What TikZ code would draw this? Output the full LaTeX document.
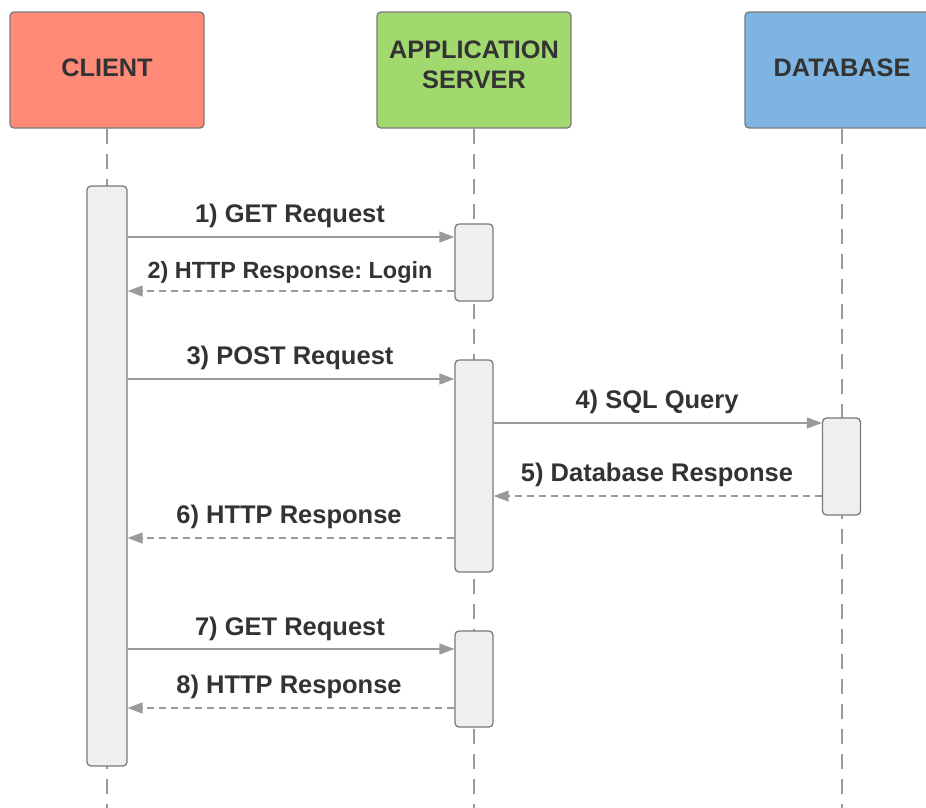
\documentclass[tikz,border=0pt]{standalone}
\usepackage{fontspec}
\setmainfont{Liberation Sans}
\frenchspacing
\usetikzlibrary{arrows.meta}
\definecolor{txt}{HTML}{333333}
\definecolor{cred}{HTML}{FF8A78}
\definecolor{cgreen}{HTML}{A2D96E}
\definecolor{cblue}{HTML}{7DB4E2}
\definecolor{bord}{HTML}{7A7A7A}
\definecolor{actfill}{HTML}{EFEFEF}
\definecolor{linec}{HTML}{9A9A9A}
\tikzset{
  header/.style={draw=bord, line width=1.3pt, rounded corners=4pt, minimum width=194pt, minimum height=116pt,
    inner sep=0pt},
  headtxt/.style={align=center, text=txt, inner sep=0pt, font=\fontsize{25.3}{30}\selectfont\bfseries},
  actbox/.style={draw=bord, fill=actfill, line width=1.3pt, rounded corners=4pt, minimum width=38pt, inner sep=0pt},
  life/.style={draw=linec, line width=1.3pt, dash pattern=on 15pt off 10pt},
  msg/.style={draw=linec, line width=1.4pt, -{Triangle[length=15pt,width=11pt]}},
  ret/.style={msg, dash pattern=on 7pt off 5pt},
  lbl/.style={text=txt, font=\fontsize{25.5}{30}\selectfont\bfseries, inner sep=0pt}
}
\begin{document}
\begin{tikzpicture}[x=1pt,y=-1pt]
\useasboundingbox (0,0) rectangle (926,807);
\clip (0,0) rectangle (926,807);
% headers
\node[header, fill=cred] (client) at (107,70) {};
\node[headtxt] (clienttxt) at (107,68) {CLIENT};
\node[header, fill=cgreen] (app) at (474,70) {};
\node[headtxt] (apptxt) at (474,65) {APPLICATION\\SERVER};
\node[header, fill=cblue] (db) at (842,70) {};
\node[headtxt] (dbtxt) at (842,68) {DATABASE};
% lifelines
\coordinate (cend) at (107,810);
\coordinate (aend) at (474,810);
\coordinate (dend) at (842,810);
\draw[life] (client.south) -- (cend);
\draw[life] (app.south) -- (aend);
\draw[life] (db.south) -- (dend);
% activation boxes
\node[actbox, minimum height=580pt, minimum width=40pt] (ca) at (107,476) {};
\node[actbox, minimum height=77pt] (a1) at (474,262.5) {};
\node[actbox, minimum height=212pt] (a2) at (474,466) {};
\node[actbox, minimum height=97pt] (d1) at (841.5,466.5) {};
\node[actbox, minimum height=96pt] (a3) at (474,679) {};
% messages
\draw[msg] (ca.east |- 0,237) -- (a1.west |- 0,237);
\node[lbl] (l1) at (290,216) {1) GET Request};
\draw[ret] (a1.west |- 0,291) -- (ca.east |- 0,291);
\node[lbl, font=\fontsize{23.4}{28}\selectfont\bfseries] (l2) at (290,272) {2) HTTP Response: Login};
\draw[msg] (ca.east |- 0,379) -- (a2.west |- 0,379);
\node[lbl] (l3) at (290,358) {3) POST Request};
\draw[msg] (a2.east |- 0,423) -- (d1.west |- 0,423);
\node[lbl] (l4) at (657,402) {4) SQL Query};
\draw[ret] (d1.west |- 0,496) -- (a2.east |- 0,496);
\node[lbl] (l5) at (657,475) {5) Database Response};
\draw[ret] (a2.west |- 0,538) -- (ca.east |- 0,538);
\node[lbl] (l6) at (289,517) {6) HTTP Response};
\draw[msg] (ca.east |- 0,649) -- (a3.west |- 0,649);
\node[lbl] (l7) at (290,629) {7) GET Request};
\draw[ret] (a3.west |- 0,708) -- (ca.east |- 0,708);
\node[lbl] (l8) at (289,687) {8) HTTP Response};
\end{tikzpicture}
\end{document}
